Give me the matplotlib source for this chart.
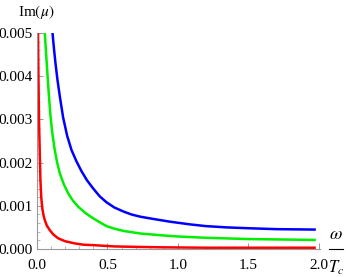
import numpy as np
import matplotlib
matplotlib.use("Agg")
import matplotlib.pyplot as plt
from matplotlib.lines import Line2D
from matplotlib.ticker import MultipleLocator, FormatStrFormatter

# values
x_blue = [0.110, 0.120, 0.131, 0.145, 0.162, 0.185, 0.214, 0.245, 0.280, 0.316, 0.355, 0.399, 0.445,
          0.494, 0.550, 0.612, 0.670, 0.731, 0.800, 0.874, 0.950, 1.087, 1.20, 1.35, 1.51, 1.70, 1.98]
y_blue = [0.00500, 0.00465, 0.00430, 0.00392, 0.00353, 0.00305, 0.00262, 0.00229, 0.00203, 0.00180,
          0.00159, 0.00140, 0.00122, 0.00108, 0.00096, 0.00087, 0.00080, 0.00075, 0.00071, 0.00067,
          0.00063, 0.00057, 0.00053, 0.00050, 0.00048, 0.00046, 0.00045]

x_green = [0.055, 0.062, 0.069, 0.077, 0.085, 0.095, 0.108, 0.126, 0.143, 0.162, 0.190, 0.221, 0.255,
           0.292, 0.345, 0.399, 0.445, 0.494, 0.550, 0.612, 0.731, 0.874, 1.00, 1.20, 1.51, 1.75, 1.98]
y_green = [0.00500, 0.00465, 0.00430, 0.00390, 0.00353, 0.00310, 0.00270, 0.00229, 0.00200, 0.00175,
           0.00150, 0.00129, 0.00112, 0.00098, 0.00083, 0.00071, 0.00062, 0.00053, 0.00047, 0.00042,
           0.00036, 0.00032, 0.00029, 0.00026, 0.00023, 0.00022, 0.00021]

x_red = [0.007, 0.010, 0.014, 0.019, 0.024, 0.030, 0.037, 0.045, 0.055, 0.070, 0.090, 0.115, 0.149,
         0.200, 0.268, 0.330, 0.399, 0.550, 0.700, 0.874, 1.20, 1.60, 1.98]
y_red = [0.00500, 0.00400, 0.00300, 0.00229, 0.00160, 0.00120, 0.00095, 0.00080, 0.00067, 0.00054,
         0.00044, 0.00034, 0.00025, 0.00018, 0.00013, 0.00010, 0.00009, 0.00006, 0.00005, 0.00004,
         0.00003, 0.00003, 0.00003]

plt.rcParams['font.family'] = ['Liberation Serif', 'DejaVu Serif']
plt.rcParams['mathtext.fontset'] = 'stix'

fig = plt.figure(figsize=(3.46, 2.77), dpi=100)
ax = fig.add_axes([0.107, 0.101, 0.818, 0.78])

ax.plot(x_red, y_red, color='#ff0000', lw=1.8, solid_capstyle='butt', solid_joinstyle='round')
ax.plot(x_green, y_green, color='#00ee00', lw=1.8, solid_capstyle='butt', solid_joinstyle='round')
ax.plot(x_blue, y_blue, color='#0000ff', lw=1.8, solid_capstyle='butt', solid_joinstyle='round')

ax.set_xlim(0, 2.01)
ax.set_ylim(0, 0.005)
for s in ['top', 'right']:
    ax.spines[s].set_visible(False)
for s in ['left', 'bottom']:
    ax.spines[s].set_color('#999999')
    ax.spines[s].set_linewidth(0.8)

ax.xaxis.set_major_locator(MultipleLocator(0.5))
ax.xaxis.set_minor_locator(MultipleLocator(0.1))
ax.yaxis.set_major_locator(MultipleLocator(0.001))
ax.yaxis.set_minor_locator(MultipleLocator(0.0002))
ax.xaxis.set_major_formatter(FormatStrFormatter('%.1f'))
ax.yaxis.set_major_formatter(FormatStrFormatter('%.3f'))
ax.tick_params(which='both', direction='in', color='#999999', labelsize=11)
ax.tick_params(axis='x', pad=7)
ax.tick_params(axis='y', pad=3)
ax.tick_params(which='major', length=4, width=0.7)
ax.tick_params(which='minor', length=2, width=0.5)

# axis labels, placed like the Mathematica original
fig.text(0.052, 0.957, r'Im$(\mu)$', fontsize=11, va='center', ha='left')
fig.text(0.971, 0.152, r'$\omega$', fontsize=13, va='center', ha='center')
fig.add_artist(Line2D([0.951, 0.991], [0.101, 0.101], color='black', lw=0.8))
fig.text(0.971, 0.033, r'$T_c$', fontsize=12, va='center', ha='center')

fig.savefig('out.png', dpi=100)
